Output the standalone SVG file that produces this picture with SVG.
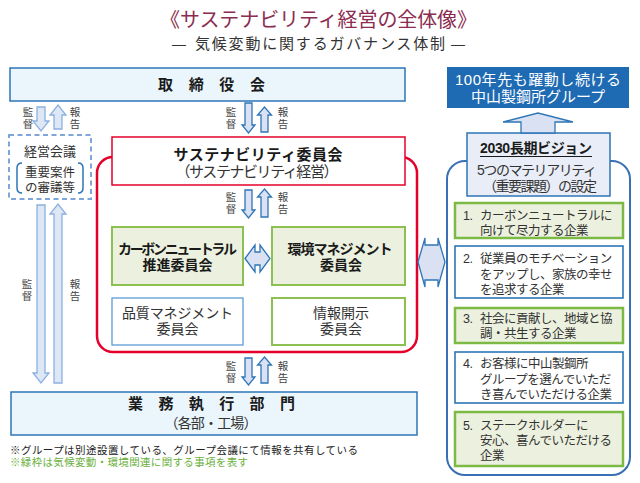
<svg xmlns="http://www.w3.org/2000/svg" width="640" height="483" viewBox="0 0 640 483">
<style>
text { font-family: "Liberation Sans", "Noto Sans CJK JP", "Noto Sans CJK SC", sans-serif; fill: #333; }
.b { font-weight: bold; fill: #1a1a1a; }
.m { text-anchor: middle; }
.lbl { font-family: "Noto Sans CJK JP", sans-serif; font-size: 10.5px; fill: #444; writing-mode: vertical-rl; letter-spacing: 1px; }
.arr { fill: #DAE1F2; stroke: #2E75B6; stroke-width: 1.3; stroke-linejoin: miter; }
.arrL { fill: #DDE7F5; stroke: #8DB0E0; stroke-width: 1.3; }
.hq { fill: #EAF5FC; stroke: #2E75B6; stroke-width: 1.5; }
.grn { fill: #EBF1DE; stroke: #8CC152; stroke-width: 2; }
.grn2 { fill: #EBF1DE; stroke: #7DBA45; stroke-width: 2.5; }
.blu { fill: #FFFFFF; stroke: #2E75B6; stroke-width: 1.6; }
.blu2 { fill: #FFFFFF; stroke: #5B9BD5; stroke-width: 1.3; }
.it { font-size: 12.5px; letter-spacing: -0.5px; fill: #333; }
</style>

<g id="title">
  <text x="160" y="27" font-size="20" textLength="317" style="fill:#8B2C50">《サステナビリティ経営の全体像》</text>
  <text y="49" font-size="15" style="fill:#333"><tspan x="172" font-size="14">―</tspan><tspan x="195" textLength="250">気候変動に関するガバナンス体制</tspan><tspan x="451" font-size="14">―</tspan></text>
</g>

<g id="board">
  <rect class="hq" x="10" y="68" width="395" height="33"/>
  <text class="b" x="158" y="90" font-size="15" textLength="107">取締役会</text>
</g>

<g id="vision-top">
  <rect x="447" y="67" width="182" height="41" fill="#1F6BB3"/>
  <text class="m" font-size="15" style="fill:#fff"><tspan x="538" y="85" textLength="166">100年先も躍動し続ける</tspan><tspan x="538" y="102" textLength="134">中山製鋼所グループ</tspan></text>
</g>

<g id="management-meeting">
  <rect x="9" y="135" width="82" height="64" fill="none" stroke="#7FA6DB" stroke-width="2" stroke-dasharray="5 3.5"/>
  <path d="M22 163 Q17 163 17 168 L17 188 Q17 193 22 193" fill="none" stroke="#2E75B6" stroke-width="1.5"/>
  <path d="M78 163 Q83 163 83 168 L83 188 Q83 193 78 193" fill="none" stroke="#2E75B6" stroke-width="1.5"/>
  <text class="m" font-size="12.5"><tspan x="50" y="156" font-size="13">経営会議</tspan><tspan x="50" y="177">重要案件</tspan><tspan x="50" y="192">の審議等</tspan></text>
</g>

<g id="sustainability-frame">
  <rect x="97" y="157" width="320" height="195" rx="16" fill="none" stroke="#E4002B" stroke-width="2.5"/>
</g>

<g id="sustainability-committee">
  <rect x="112" y="137" width="293" height="48" fill="#fff" stroke="#E4002B" stroke-width="1.5"/>
  <text class="m" font-size="15"><tspan class="b" x="258" y="160" textLength="169">サステナビリティ委員会</tspan><tspan x="257" y="177" textLength="163">（サステナビリティ経営）</tspan></text>
</g>

<g id="carbon-neutral">
  <rect class="grn" x="112" y="227" width="131" height="58"/>
  <text class="b m" font-size="14"><tspan x="177.5" y="254" textLength="119">カーボンニュートラル</tspan><tspan x="177.5" y="270" textLength="70">推進委員会</tspan></text>
</g>

<g id="environment">
  <rect class="grn" x="272" y="227" width="133" height="58"/>
  <text class="b m" font-size="14"><tspan x="340" y="254" textLength="105">環境マネジメント</tspan><tspan x="341" y="270">委員会</tspan></text>
</g>

<g id="quality">
  <rect class="blu2" x="112" y="298" width="131" height="47"/>
  <text class="m" font-size="14"><tspan x="177.5" y="318" textLength="111">品質マネジメント</tspan><tspan x="177.5" y="334">委員会</tspan></text>
</g>

<g id="disclosure">
  <rect class="grn" x="272" y="298" width="133" height="47" style="fill:#fff"/>
  <text class="m" font-size="14"><tspan x="341" y="318">情報開示</tspan><tspan x="341" y="334">委員会</tspan></text>
</g>

<g id="operations">
  <rect class="hq" x="11" y="392" width="406" height="43"/>
  <text font-size="15"><tspan class="b" x="128" y="409" textLength="167">業務執行部門</tspan><tspan class="m" x="211" y="428" font-size="14" textLength="93">（各部・工場）</tspan></text>
</g>

<g id="vision-frame">
  <rect x="447" y="161" width="183" height="314" rx="18" fill="#fff" stroke="#3A6FB5" stroke-width="2"/>
</g>

<g id="vision-2030">
  <rect x="467" y="133" width="143" height="63" fill="#E8EDF7" stroke="#2E75B6" stroke-width="1.5"/>
  <line x1="480" y1="156.5" x2="592" y2="156.5" stroke="#1a1a1a" stroke-width="1.2"/>
  <text class="m" font-size="14"><tspan class="b" x="536" y="153" textLength="112">2030長期ビジョン</tspan><tspan x="537" y="175" textLength="120">5つのマテリアリティ</tspan><tspan x="540" y="191" textLength="114">（重要課題）の設定</tspan></text>
</g>

<g id="materiality-1">
  <rect class="grn2" x="455" y="203" width="168" height="35"/>
  <text class="it"><tspan x="463" y="220">1.</tspan><tspan x="480" y="220">カーボンニュートラルに</tspan><tspan x="480" y="235">向けて尽力する企業</tspan></text>
</g>
<g id="materiality-2">
  <rect class="blu" x="455" y="246" width="168" height="52"/>
  <text class="it"><tspan x="463" y="263">2.</tspan><tspan x="480" y="263">従業員のモチベーション</tspan><tspan x="480" y="279">をアップし、家族の幸せ</tspan><tspan x="480" y="294">を追求する企業</tspan></text>
</g>
<g id="materiality-3">
  <rect class="grn2" x="455" y="308" width="168" height="35"/>
  <text class="it"><tspan x="463" y="323">3.</tspan><tspan x="480" y="323">社会に貢献し、地域と協</tspan><tspan x="480" y="338">調・共生する企業</tspan></text>
</g>
<g id="materiality-4">
  <rect class="blu" x="455" y="352" width="168" height="51"/>
  <text class="it"><tspan x="463" y="368">4.</tspan><tspan x="480" y="368">お客様に中山製鋼所</tspan><tspan x="480" y="384">グループを選んでいただ</tspan><tspan x="480" y="399">き喜んでいただける企業</tspan></text>
</g>
<g id="materiality-5">
  <rect class="grn2" x="455" y="412" width="168" height="54"/>
  <text class="it"><tspan x="463" y="430">5.</tspan><tspan x="480" y="430">ステークホルダーに</tspan><tspan x="480" y="445">安心、喜んでいただける</tspan><tspan x="480" y="460">企業</tspan></text>
</g>

<g id="connectors">
  <path class="arrL" d="M37 107 H45 V121 H49 L41 131 L33 121 H37 Z"/>
  <path class="arrL" d="M54 129 H62 V115 H66 L58 105 L50 115 H54 Z"/>
  <text class="lbl" x="28" y="107">監督</text>
  <text class="lbl" x="75" y="107">報告</text>
  <path class="arrL" d="M37 205 H45 V373 H49 L41 383 L33 373 H37 Z"/>
  <path class="arrL" d="M54 383 H62 V214 H66 L58 204 L50 214 H54 Z"/>
  <text class="lbl" x="27" y="279">監督</text>
  <text class="lbl" x="75" y="279">報告</text>
  <path class="arr" d="M245 103 H252 V125 H255 L248.5 133 L242 125 H245 Z"/>
  <path class="arr" d="M261 132 H268 V115 H271.5 L264.5 107 L257.5 115 H261 Z"/>
  <text class="lbl" x="231" y="107">監督</text>
  <text class="lbl" x="283" y="107">報告</text>
  <path class="arr" d="M245 190 H252 V210 H255 L248.5 218 L242 210 H245 Z"/>
  <path class="arr" d="M261 217 H268 V197 H271.5 L264.5 189 L257.5 197 H261 Z"/>
  <text class="lbl" x="231" y="192">監督</text>
  <text class="lbl" x="283" y="192">報告</text>
  <path class="arr" d="M245 358 H252 V377 H255 L248.5 385 L242 377 H245 Z"/>
  <path class="arr" d="M261 383 H268 V365 H271.5 L264.5 357 L257.5 365 H261 Z"/>
  <text class="lbl" x="231" y="361">監督</text>
  <text class="lbl" x="283" y="361">報告</text>
  <path class="arr" d="M245 258.5 L255 245 V252 H260 V245 L270 258.5 L260 272 V265 H255 V272 Z"/>
  <path class="arr" d="M418 262 L425 238 V245 H438 V238 L445 262 L438 287 V280 H425 V287 Z"/>
  <path class="arr" d="M521 133 V122 H503 L538 113 L573 122 H555 V133 Z"/>
</g>

<g id="notes">
  <text font-size="10.5"><tspan x="10" y="454" textLength="348" style="fill:#222">※グループは別途設置している、グループ会議にて情報を共有している</tspan><tspan x="10" y="466" textLength="238" style="fill:#6AAF3D">※緑枠は気候変動・環境関連に関する事項を表す</tspan></text>
</g>
</svg>
